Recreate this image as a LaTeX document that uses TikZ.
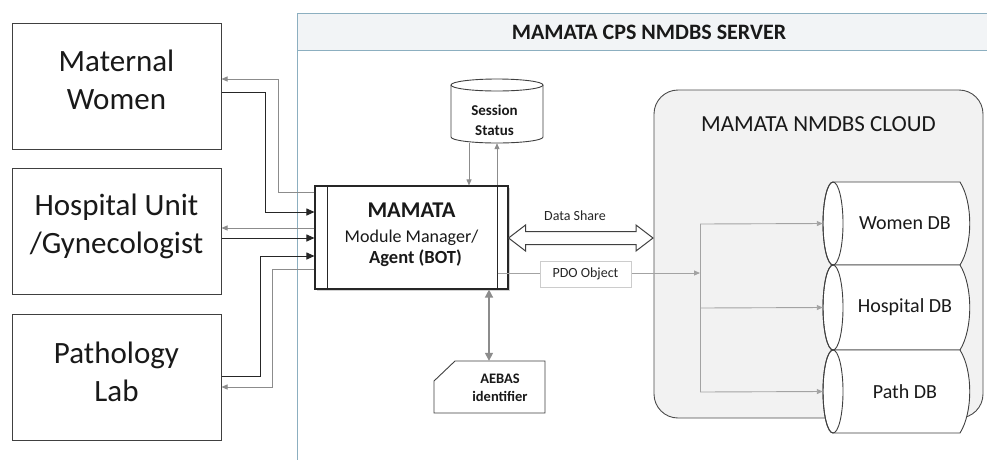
\documentclass[tikz,border=0pt]{standalone}
\usepackage{fontspec}
\setmainfont{Carlito}
\usetikzlibrary{arrows.meta,shadows,calc}
\definecolor{srvline}{RGB}{140,175,192}
\definecolor{hdrfill}{RGB}{242,244,246}
\definecolor{cloudfill}{RGB}{242,242,242}
\definecolor{gline}{RGB}{140,140,140}
\newcommand\dbcyl[4]{%
  % #1 name, #2 top, #3 bottom, #4 text
  \pgfmathsetmacro\dbmid{(#2+#3)/2}
  \pgfmathsetmacro\dbhalf{(#3-#2)/2}
  \pgfmathsetmacro\dbqa{#2+(#3-#2)/4}
  \pgfmathsetmacro\dbqb{#3-(#3-#2)/4}
  \draw[dbline, fill=white] (833,#2) -- (960,#2) .. controls (973,\dbqa) and (973,\dbqb) .. (960,#3) -- (833,#3)
     arc[start angle=90, end angle=270, x radius=10, y radius=\dbhalf] -- cycle;
  \draw[dbline] (833,\dbmid) ellipse [x radius=10, y radius=\dbhalf];
  \node[dbtext, minimum width=147pt, minimum height=#3-#2] (#1) at (896.5,\dbmid) {};
  \node[dbtext] at (905,\dbmid) {#4};
}
\begin{document}
\begin{tikzpicture}[x=1pt,y=-1pt,
  ent/.style={draw=black!75, line width=1pt, minimum width=209pt, minimum height=126pt, inner sep=0pt},
  enttext/.style={align=center, font=\fontsize{31}{38}\selectfont, text=black!90},
  blk/.style={draw=black!85, line width=1pt, -{Triangle[length=8pt,width=7pt]}},
  gry/.style={draw=gline, line width=0.9pt, -{Triangle[length=6pt,width=5pt]}},
  dbline/.style={draw=black!75, line width=0.9pt},
  dbtext/.style={font=\fontsize{20}{24}\selectfont, inner sep=0pt, text=black!90},
  small/.style={font=\fontsize{14}{16}\selectfont, text=black!85},
  bsmall/.style={font=\bfseries\fontsize{15}{20}\selectfont, align=center, text=black!90}]
\useasboundingbox (0,0) rectangle (987,459);
\fill[white] (0,0) rectangle (987,459);

% server frame
\draw[srvline, line width=0.9pt, fill=white] (297,13) rectangle (1000,480);
\draw[srvline, line width=0.9pt, fill=hdrfill] (297,13) rectangle (1000,50);
\node[font=\bfseries\fontsize{22}{26}\selectfont, text=black!90] (srvtitle) at (649,32) {MAMATA CPS NMDBS SERVER};

% cloud
\draw[black!70, line width=0.9pt, fill=cloudfill, rounded corners=24pt] (654,90) rectangle (983,418);
\node[font=\fontsize{23}{27}\selectfont, text=black!90] (cloudtitle) at (818.5,124) {MAMATA NMDBS CLOUD};

% left entities
\node[ent] (mw) at (116.5,86) {};
\node[enttext] at (116.5,80) {Maternal\\Women};
\node[ent] (hu) at (116.5,231) {};
\node[enttext] at (116.5,226) {Hospital Unit\\/Gynecologist};
\node[ent] (pl) at (116.5,377) {};
\node[enttext] at (116.5,372) {Pathology\\Lab};

% module manager
\node[draw=black!85, line width=1.1pt, fill=white, minimum width=193pt, minimum height=103pt,
      drop shadow={shadow xshift=2pt, shadow yshift=-2pt, opacity=0.35}] (mod) at (411.5,237.5) {};
\draw[black!85, line width=1pt] (327,186) -- (327,289);
\draw[black!85, line width=1pt] (497,186) -- (497,289);
\node[font=\bfseries\fontsize{22.5}{26}\selectfont, text=black!90] (mt1) at (411.5,210) {MAMATA};
\node[font=\fontsize{18}{21}\selectfont, text=black!90] (mt2) at (411.5,238) {Module Manager/};
\node[font=\bfseries\fontsize{18.5}{21}\selectfont, text=black!90] (mt3) at (415.5,258) {Agent (BOT)};

% session status cylinder
\draw[black!75, line width=0.9pt, fill=white] (451,85) -- (451,137)
   arc[start angle=180, end angle=0, x radius=46, y radius=6] -- (543,85);
\draw[black!75, line width=0.9pt, fill=white] (497,85) ellipse [x radius=46, y radius=6];
\node[minimum width=92pt, minimum height=64pt, inner sep=0pt] (sess) at (497,111) {};
\node[bsmall] at (494.5,120) {Session\\Status};

% AEBAS identifier
\draw[black!75, line width=0.9pt, fill=white] (455,361) -- (545,361) -- (545,413) -- (434,413) -- (434,381) -- cycle;
\node[minimum width=111pt, minimum height=52pt, inner sep=0pt] (aebas) at (489.5,387) {};
\node[bsmall, font=\bfseries\fontsize{14.5}{18}\selectfont] at (500,388) {AEBAS\\identifier};

% DBs
\dbcyl{wdb}{182}{265}{Women DB}
\dbcyl{hdb}{265}{350}{Hospital DB}
\dbcyl{pdb}{350}{433}{Path DB}

% left connectors
\draw[gry] ($(mod.west)+(0,-45.5)$) -- (278,192) -- (278,79) -- (mw.east |- 0,79);
\draw[blk] (mw.east |- 0,92) -- (265,92) -- (265,212) -- ($(mod.west)+(0,-25.5)$);
\draw[gry] ($(mod.west)+(0,-9.5)$) -- (hu.east |- 0,228);
\draw[blk] (hu.east |- 0,238) -- ($(mod.west)+(0,0.5)$);
\draw[blk] (pl.east |- 0,376) -- (260,376) -- (260,256) -- ($(mod.west)+(0,18.5)$);
\draw[gry] ($(mod.west)+(0,31.5)$) -- (272,269) -- (272,387) -- (pl.east |- 0,387);

% session connectors
\draw[gry] (sess.south -| 469,0) -- (mod.north -| 469,0);
\draw[gry] (mod.north -| 497,0) -- (sess.south -| 497,0);

% AEBAS connector
\draw[draw=gline, line width=1.4pt, {Triangle[length=8pt,width=8pt]}-{Triangle[length=8pt,width=8pt]}] (mod.south -| 489,0) -- (aebas.north -| 489,0);

% data share double arrow
\coordinate (dsl) at ($(mod.east)+(0,0.5)$);
\coordinate (dsr) at (653,238);
\draw[black!75, line width=1pt, fill=white]
  (dsl) -- ($(dsl)+(17,-13)$) -- ($(dsl)+(17,-6.5)$) -- ($(dsr)+(-17,-6.5)$) -- ($(dsr)+(-17,-13)$) -- (dsr)
  -- ($(dsr)+(-17,13)$) -- ($(dsr)+(-17,6.5)$) -- ($(dsl)+(17,6.5)$) -- ($(dsl)+(17,13)$) -- cycle;
\node[small] (dslabel) at (575,216) {Data Share};

% PDO object
\coordinate (jn) at (700,273);
\draw[gry, draw=gline!80] ($(mod.east)+(-11,35.5)$) -- (jn);
\node[small, draw=black!20, fill=white, minimum width=91pt, minimum height=26pt, inner sep=0pt] (pdo) at (585.5,274) {PDO Object};
\draw[draw=gline!80, line width=0.9pt] (700,224) -- (700,392);
\draw[gry, draw=gline!80] (700,224) -- (wdb.west);
\draw[gry, draw=gline!80] (700,308) -- (hdb.west);
\draw[gry, draw=gline!80] (700,392) -- (pdb.west);
\end{tikzpicture}
\end{document}
